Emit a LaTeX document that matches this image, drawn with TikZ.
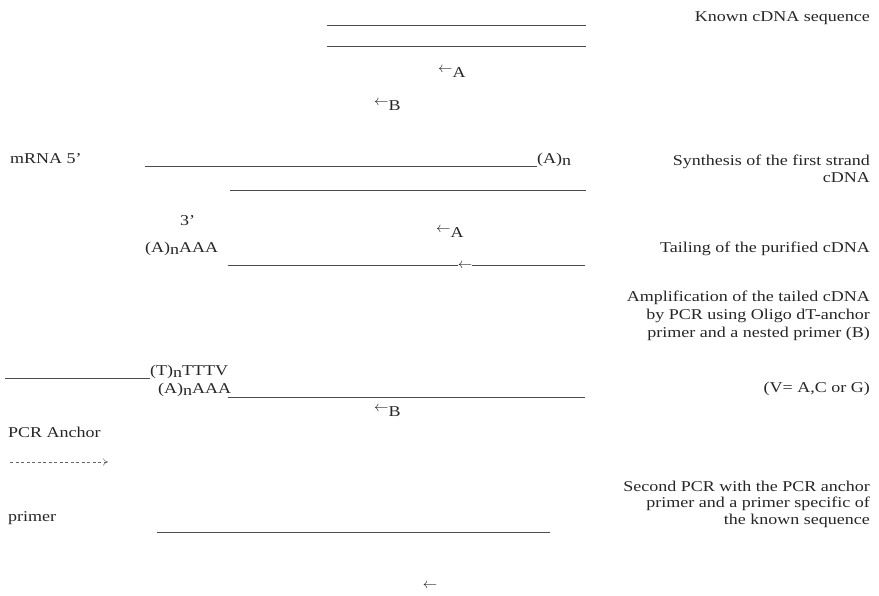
\documentclass[tikz,border=0pt]{standalone}
\usepackage{fontspec}
\setmainfont[FakeStretch=1.2]{Liberation Serif}
\usetikzlibrary{arrows.meta}
\newcommand{\lowr}[1]{\raisebox{-0.35ex}{#1}}
\newcommand{\larr}{\raisebox{0.3ex}{$\leftarrow$}}
\newcommand{\fs}[2]{\fontsize{#1}{#2}\selectfont}
\begin{document}
\begin{tikzpicture}[x=1pt,y=-1pt,
  strand/.style={line width=0.6pt, black!70},
  lbl/.style={inner sep=0pt, text=black!85, font=\fs{15}{17}},
  rlbl/.style={lbl, anchor=base east, align=right},
  prim/.style={lbl, anchor=base west}]
\useasboundingbox (0,0) rectangle (879,595);
% block 1
\coordinate (k1a) at (327,25); \coordinate (k1b) at (586,25);
\coordinate (k2a) at (327,46); \coordinate (k2b) at (586,46);
\draw[strand] (k1a) -- (k1b);
\draw[strand] (k2a) -- (k2b);
\node[rlbl] (known) at (870,21) {Known cDNA sequence};
\node[prim] (pA1) at (438,75) {\larr\lowr{A}};
\node[prim] (pB1) at (374,108) {\larr\lowr{B}};
% block 2
\node[lbl, anchor=base west] (mrna) at (10,163) {mRNA 5'};
\coordinate (m1) at (145,166);
\node[lbl, anchor=base west] (an) at (537,163) {(A)\lowr{n}};
\draw[strand] (m1) -- (m1 -| an.west);
\coordinate (c1a) at (230,190); \coordinate (c1b) at (586,190);
\draw[strand] (c1a) -- (c1b);
\node[rlbl, font=\fs{15}{16.5}] (syn) at (870,182) {Synthesis of the first strand\\cDNA};
\node[lbl, anchor=base west] (p3) at (180,225) {3'};
\node[prim] (pA2) at (436,235) {\larr\lowr{A}};
% block 3
\node[lbl, anchor=base west] (aaa1) at (145,252) {(A)\lowr{n}AAA};
\coordinate (t1a) at (228,265); \coordinate (t1b) at (585,265);
\node[lbl, anchor=center] (tarr) at (465,266) {$\leftarrow$};
\draw[strand] (t1a) -- (t1a -| tarr.west);
\draw[strand] (t1b -| tarr.east) -- (t1b);
\node[rlbl] (tail) at (870,252) {Tailing of the purified cDNA};
% block 4
\node[rlbl, font=\fs{15}{18}] (amp) at (870,337) {Amplification of the tailed cDNA\\by PCR using Oligo dT-anchor\\primer and a nested primer (B)};
\node[rlbl] (vv) at (870,392) {(V= A,C or G)};
\coordinate (d1) at (5,378);
\node[lbl, anchor=base west] (tttv) at (150,375) {(T)\lowr{n}TTTV};
\draw[strand] (d1) -- (d1 -| tttv.west);
\node[lbl, anchor=base west] (aaa2) at (158,393) {(A)\lowr{n}AAA};
\coordinate (t2a) at (228,397); \coordinate (t2b) at (585,397);
\draw[strand] (t2a) -- (t2b);
\node[prim] (pB2) at (374,414) {\larr\lowr{B}};
% block 5
\node[lbl, anchor=base west] (anch) at (8,437) {PCR Anchor};
\coordinate (ar1) at (10,462); \coordinate (ar2) at (108,462);
\draw[line width=0.5pt, black!60, dash pattern=on 3pt off 2.5pt, -{To[length=5pt, width=7pt]}] (ar1) -- (ar2);
\node[lbl, anchor=base west] (prm) at (8,521) {primer};
\coordinate (s1a) at (157,532); \coordinate (s1b) at (550,532);
\draw[strand] (s1a) -- (s1b);
\node[rlbl, font=\fs{15}{16.5}] (sec) at (870,524) {Second PCR with the PCR anchor\\primer and a primer specific of\\the known sequence};
\node[lbl, anchor=center] (lastarr) at (430,586) {$\leftarrow$};
\end{tikzpicture}
\end{document}
